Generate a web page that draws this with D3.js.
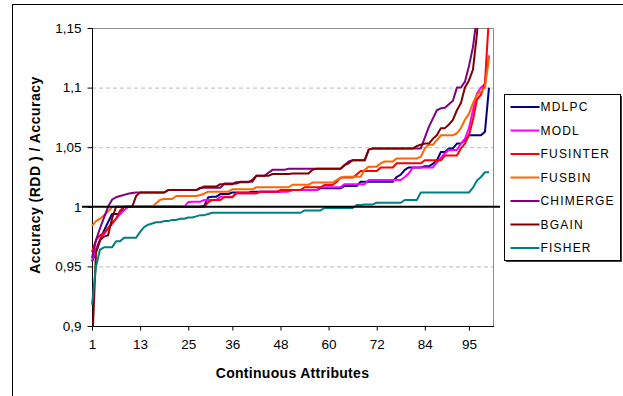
<!DOCTYPE html>
<html>
<head>
<meta charset="utf-8">
<script src="https://cdn.jsdelivr.net/npm/d3@7"></script>
<style>
  html, body { margin: 0; padding: 0; background: #ffffff; }
  svg { display: block; font-family: "Liberation Sans", Arial, sans-serif; }
  .axis-label { font-weight: bold; font-size: 14px; fill: #000; }
  .tick-label { font-size: 13.5px; fill: #000; }
  .legend-label { font-size: 12px; letter-spacing: 1.2px; fill: #000; }
</style>
</head>
<body>
<div id="chart"></div>
<script>
// x ticks (category labels shown by the chart) and y ticks
const xTicks = [1, 13, 25, 36, 48, 60, 72, 84, 95]
const yTicks = [0.9, 0.95, 1, 1.05, 1.1, 1.15]
const yTickLabels = ["0,9", "0,95", "1", "1,05", "1,1", "1,15"]

const seriesNames = ["MDLPC", "MODL", "FUSINTER", "FUSBIN", "CHIMERGE", "BGAIN", "FISHER"]
const seriesColors = ["#000080", "#ff00ff", "#ff0000", "#ff6600", "#800080", "#800000", "#008080"]

// values, attribute 1..100
const MDLPC = [
  0.954, 0.962, 0.972, 0.98, 0.987, 0.994, 0.994, 0.994, 1.0, 1.0,
  1.0, 1.0, 1.0, 1.0, 1.0, 1.0, 1.0, 1.0, 1.0, 1.0,
  1.0, 1.0, 1.0, 1.0, 1.0, 1.0, 1.0, 1.0, 1.001, 1.008,
  1.0085, 1.0085, 1.0107, 1.0107, 1.0107, 1.012, 1.012, 1.012, 1.012, 1.012,
  1.0127, 1.0127, 1.0127, 1.0127, 1.0127, 1.0127, 1.0127, 1.0127, 1.014, 1.014,
  1.014, 1.014, 1.014, 1.014, 1.014, 1.014, 1.014, 1.0155, 1.0155, 1.0155,
  1.0155, 1.0155, 1.0155, 1.0175, 1.0175, 1.0175, 1.0175, 1.021, 1.021, 1.021,
  1.021, 1.021, 1.021, 1.021, 1.021, 1.021, 1.025, 1.027, 1.031, 1.033,
  1.033, 1.033, 1.033, 1.034, 1.034, 1.036, 1.039, 1.046, 1.046, 1.049,
  1.049, 1.053, 1.053, 1.056, 1.06, 1.06, 1.06, 1.06, 1.063, 1.1
]
const MODL = [
  0.955, 0.965, 0.972, 0.977, 0.982, 0.986, 0.99, 0.994, 0.997, 1.0,
  1.0, 1.0, 1.0, 1.0, 1.0, 1.0, 1.0, 1.0, 1.0, 1.0,
  1.0, 1.0, 1.0, 1.0, 1.004, 1.0043, 1.0043, 1.0043, 1.0057, 1.0057,
  1.0057, 1.0057, 1.0085, 1.0085, 1.0085, 1.0085, 1.0114, 1.0114, 1.0114, 1.0114,
  1.0114, 1.0114, 1.0127, 1.0127, 1.0127, 1.0127, 1.0127, 1.0127, 1.0127, 1.0127,
  1.014, 1.014, 1.014, 1.014, 1.014, 1.014, 1.014, 1.0165, 1.0165, 1.0165,
  1.0165, 1.0165, 1.0165, 1.019, 1.019, 1.019, 1.019, 1.019, 1.019, 1.0225,
  1.0225, 1.0225, 1.0225, 1.0225, 1.0225, 1.0225, 1.0225, 1.0225, 1.025, 1.028,
  1.033, 1.033, 1.033, 1.033, 1.033, 1.033, 1.037, 1.041, 1.045, 1.0477,
  1.0477, 1.0477, 1.053, 1.057, 1.066, 1.081, 1.095, 1.1, 1.103, 1.127
]
const FUSINTER = [
  0.962, 0.972, 0.976, 0.978, 0.982, 0.986, 0.99, 0.997, 1.0, 1.0,
  1.0, 1.0, 1.0, 1.0, 1.0, 1.0, 1.0, 1.0, 1.0, 1.0,
  1.0, 1.0, 1.0, 1.0, 1.0, 1.0, 1.0, 1.0, 1.0, 1.004,
  1.0057, 1.0057, 1.0057, 1.008, 1.008, 1.008, 1.0114, 1.0114, 1.0114, 1.0114,
  1.0114, 1.0114, 1.0127, 1.0127, 1.0127, 1.0127, 1.0127, 1.014, 1.014, 1.014,
  1.014, 1.014, 1.014, 1.0164, 1.0164, 1.0164, 1.0164, 1.0164, 1.0183, 1.0183,
  1.0183, 1.021, 1.0245, 1.0245, 1.0245, 1.0245, 1.027, 1.03, 1.03, 1.03,
  1.03, 1.03, 1.033, 1.033, 1.033, 1.033, 1.0365, 1.0365, 1.0365, 1.0365,
  1.0365, 1.0365, 1.0365, 1.039, 1.039, 1.039, 1.039, 1.039, 1.043, 1.043,
  1.043, 1.043, 1.049, 1.053, 1.06, 1.073, 1.09, 1.094, 1.104, 1.16
]
const FUSBIN = [
  0.984, 0.988, 0.99, 0.993, 0.996, 1.0, 1.0, 1.0, 1.0, 1.0,
  1.0, 1.0, 1.0, 1.0, 1.0, 1.0, 1.003, 1.006, 1.0065, 1.0065,
  1.0065, 1.009, 1.009, 1.009, 1.009, 1.009, 1.009, 1.0099, 1.011, 1.0127,
  1.0127, 1.0127, 1.0127, 1.0127, 1.0127, 1.0147, 1.0147, 1.0147, 1.0147, 1.0147,
  1.0147, 1.0164, 1.0164, 1.0164, 1.0164, 1.0164, 1.0164, 1.0164, 1.0164, 1.0164,
  1.0185, 1.0185, 1.0185, 1.0185, 1.0185, 1.0203, 1.0203, 1.0203, 1.0203, 1.0203,
  1.0203, 1.0225, 1.024, 1.0253, 1.0253, 1.0253, 1.0253, 1.0253, 1.031, 1.0337,
  1.0337, 1.0337, 1.0365, 1.038, 1.038, 1.038, 1.0406, 1.0406, 1.0406, 1.0406,
  1.0406, 1.0406, 1.042, 1.049, 1.052, 1.052, 1.056, 1.06, 1.06, 1.06,
  1.06, 1.0617, 1.066, 1.073, 1.078, 1.087, 1.094, 1.0966, 1.1, 1.126
]
const CHIMERGE = [
  0.957, 0.972, 0.982, 0.991, 1.0, 1.006, 1.008, 1.009, 1.01, 1.011,
  1.0115, 1.012, 1.012, 1.012, 1.012, 1.012, 1.012, 1.012, 1.012, 1.014,
  1.014, 1.014, 1.014, 1.014, 1.014, 1.014, 1.014, 1.016, 1.016, 1.016,
  1.016, 1.016, 1.016, 1.0195, 1.0195, 1.0195, 1.0195, 1.021, 1.021, 1.021,
  1.021, 1.026, 1.026, 1.026, 1.0286, 1.031, 1.031, 1.031, 1.031, 1.032,
  1.032, 1.032, 1.032, 1.032, 1.032, 1.032, 1.032, 1.032, 1.032, 1.032,
  1.032, 1.032, 1.032, 1.035, 1.038, 1.039, 1.039, 1.039, 1.039, 1.048,
  1.049, 1.049, 1.049, 1.049, 1.049, 1.049, 1.049, 1.049, 1.049, 1.049,
  1.049, 1.049, 1.049, 1.058, 1.067, 1.074, 1.081, 1.0826, 1.083, 1.086,
  1.089, 1.1, 1.1, 1.105, 1.118, 1.134, 1.16, 1.2, 1.2, 1.2
]
const BGAIN = [
  0.88, 0.962, 0.972, 0.975, 0.976, 0.99, 1.0, 1.0, 1.0, 1.0,
  1.0, 1.009, 1.012, 1.012, 1.012, 1.012, 1.012, 1.012, 1.012, 1.014,
  1.014, 1.014, 1.014, 1.014, 1.014, 1.014, 1.014, 1.0155, 1.017, 1.017,
  1.017, 1.017, 1.019, 1.019, 1.019, 1.019, 1.0206, 1.0206, 1.0206, 1.0206,
  1.0225, 1.026, 1.026, 1.026, 1.026, 1.0275, 1.0275, 1.0275, 1.0275, 1.0275,
  1.028, 1.028, 1.028, 1.028, 1.028, 1.031, 1.032, 1.032, 1.032, 1.032,
  1.032, 1.032, 1.032, 1.035, 1.0365, 1.039, 1.039, 1.039, 1.039, 1.048,
  1.049, 1.049, 1.049, 1.049, 1.049, 1.049, 1.049, 1.049, 1.049, 1.049,
  1.049, 1.051, 1.052, 1.053, 1.053, 1.057, 1.06, 1.066, 1.066, 1.069,
  1.073, 1.081, 1.087, 1.1, 1.106, 1.115, 1.145, 1.2, 1.2, 1.2
]
const FISHER = [
  0.918, 0.95, 0.964, 0.966, 0.966, 0.966, 0.971, 0.971, 0.974, 0.974,
  0.974, 0.974, 0.979, 0.983, 0.985, 0.986, 0.987, 0.987, 0.988, 0.988,
  0.989, 0.989, 0.99, 0.99, 0.991, 0.991, 0.992, 0.993, 0.993, 0.994,
  0.995, 0.995, 0.995, 0.995, 0.995, 0.995, 0.995, 0.995, 0.995, 0.995,
  0.995, 0.995, 0.995, 0.995, 0.995, 0.995, 0.995, 0.995, 0.995, 0.995,
  0.995, 0.995, 0.995, 0.997, 0.997, 0.997, 0.997, 0.997, 0.999, 0.999,
  0.999, 0.999, 0.999, 0.999, 0.999, 0.999, 1.0015, 1.0015, 1.002, 1.002,
  1.002, 1.0034, 1.0034, 1.0034, 1.0034, 1.0034, 1.0034, 1.0034, 1.0057, 1.0057,
  1.0057, 1.0057, 1.012, 1.012, 1.012, 1.012, 1.012, 1.012, 1.012, 1.012,
  1.012, 1.012, 1.012, 1.012, 1.012, 1.016, 1.022, 1.025, 1.029, 1.029
]
const seriesValues = [MDLPC, MODL, FUSINTER, FUSBIN, CHIMERGE, BGAIN, FISHER]

const width = 623
const height = 396
const margin = { left: 92, top: 28, right: 130, bottom: 70 }
const inner_width = width - margin.left - margin.right   // 401
const inner_height = height - margin.top - margin.bottom // 298

const svgOuter = d3.select("#chart").append("svg")
    .attr("width", width)
    .attr("height", height)

// outer frame of the chart object
svgOuter.append("rect")
    .attr("x", 12.5).attr("y", 4.5)
    .attr("width", 700).attr("height", 500)
    .attr("fill", "none")
    .attr("stroke", "#000")

const svg = svgOuter.append("g")
    .attr("transform", `translate(${margin.left},${margin.top})`)

const xScale = d3.scaleLinear().domain([1, 101]).range([0, inner_width])
const yScale = d3.scaleLinear().domain([0.9, 1.15]).range([inner_height, 0])

// dashed grid
svg.append("g")
    .attr("class", "y axis-grid")
    .call(d3.axisLeft(yScale).tickValues([0.95, 1.05, 1.1]).tickSize(-inner_width).tickFormat(() => ""))
    .call(g => g.select(".domain").remove())
    .selectAll("line")
    .attr("stroke", "#bdbdbd")
    .attr("stroke-dasharray", "4,3")

// plot border top/right
svg.append("path")
    .attr("d", `M0.5,${yScale(1.15) + 0.5}H${inner_width + 0.5}V${inner_height}`)
    .attr("fill", "none")
    .attr("stroke", "#8c8c8c")

// y axis
const yAxis = d3.axisLeft(yScale).tickValues(yTicks).tickSize(5).tickPadding(6)
    .tickFormat((d, i) => yTickLabels[i])
svg.append("g")
    .attr("class", "y axis")
    .attr("transform", "translate(0.5,0)")
    .call(yAxis)
    .call(g => g.select(".domain").attr("d", `M0,0V${inner_height}`))
    .selectAll("text")
    .attr("class", "tick-label")
    .attr("font-family", null)
    .attr("font-size", null)

// x axis
const xAxis = d3.axisBottom(xScale).tickValues(xTicks).tickSize(4).tickPadding(9)
svg.append("g")
    .attr("class", "x axis")
    .attr("transform", `translate(0,${inner_height + 0.5})`)
    .call(xAxis)
    .call(g => g.select(".domain").attr("d", `M0,0H${inner_width + 1}`))
    .selectAll("text")
    .attr("class", "tick-label")
    .attr("font-family", null)
    .attr("font-size", null)

svg.selectAll(".axis path, .axis line").attr("stroke", "#000")

// series lines, clipped to the plot area
svg.append("clipPath")
    .attr("id", "plotClip")
    .append("rect")
    .attr("x", -2).attr("y", 0)
    .attr("width", inner_width + 4).attr("height", inner_height)

const line = d3.line()
    .x((d, i) => xScale(i + 1))
    .y(d => yScale(d))

const lines = svg.append("g").attr("clip-path", "url(#plotClip)")
seriesValues.forEach((values, k) => {
    lines.append("path")
        .datum(values)
        .attr("fill", "none")
        .attr("stroke", seriesColors[k])
        .attr("stroke-width", 2)
        .attr("stroke-linejoin", "round")
        .attr("d", line)
})

// reference line at 1
svg.append("line")
    .attr("x1", -10).attr("x2", inner_width + 7)
    .attr("y1", yScale(1)).attr("y2", yScale(1))
    .attr("stroke", "#000")
    .attr("stroke-width", 2)

// axis titles
svg.append("text")
    .attr("class", "axis-label")
    .attr("x", inner_width / 2)
    .attr("y", 350)
    .attr("text-anchor", "middle")
    .style("letter-spacing", "0.3px")
    .text("Continuous Attributes")

svg.append("text")
    .attr("class", "axis-label")
    .attr("transform", `translate(${40 - margin.left},${175 - margin.top}) rotate(-90)`)
    .attr("text-anchor", "middle")
    .style("letter-spacing", "0.5px")
    .text("Accuracy (RDD ) / Accuracy")

// legend
const legend = svgOuter.append("g").attr("transform", "translate(504.5,94.5)")
legend.append("rect")
    .attr("x", 1.5).attr("y", 1.5)
    .attr("width", 116).attr("height", 166)
    .attr("fill", "#404040")
legend.append("rect")
    .attr("width", 116).attr("height", 166)
    .attr("fill", "#fff")
    .attr("stroke", "#000")

const item = legend.selectAll("g.item")
    .data(seriesNames)
    .enter()
    .append("g")
    .attr("class", "item")
    .attr("transform", (d, i) => `translate(0,${12.5 + i * 23.5})`)
item.append("line")
    .attr("x1", 6).attr("x2", 35)
    .attr("stroke", (d, i) => seriesColors[i])
    .attr("stroke-width", 2)
item.append("text")
    .attr("class", "legend-label")
    .attr("x", 36)
    .attr("dy", "0.36em")
    .text(d => d)
</script>
</body>
</html>
